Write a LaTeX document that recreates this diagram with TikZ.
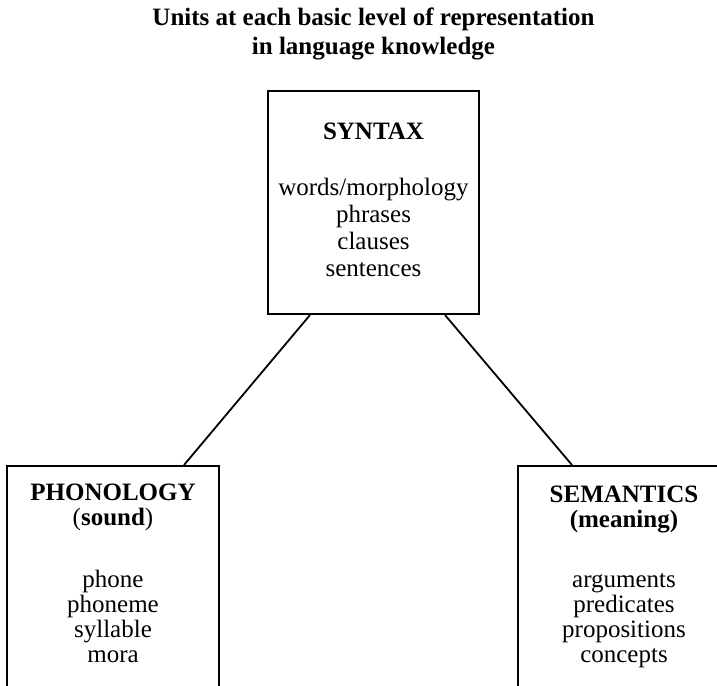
\documentclass[tikz,border=0pt]{standalone}
\usepackage{fontspec}
\setmainfont{Liberation Serif}
\usetikzlibrary{positioning}

\begin{document}
\begin{tikzpicture}[
        x=0.5pt, y=-0.5pt,
        levelbox/.style={draw, rectangle, line width=1pt, inner sep=0pt, minimum width=106pt},
        units/.style={align=center, inner sep=0pt, font=\fontsize{12.5}{12.5}\selectfont},
        heading/.style={align=center, inner sep=0pt, font=\bfseries\fontsize{12.5}{14.5}\selectfont},
        link/.style={line width=0.9pt}]

        \useasboundingbox (0,0) rectangle (717,685);
        \clip (0,0) rectangle (717,685);

        % Levels
        \node[levelbox, minimum width=105.5pt, minimum height=111.5pt, anchor=north west] (syntax) at (267,90) {};
        \node[levelbox, minimum height=120pt, anchor=north west] (phonology) at (6,465) {};
        \node[levelbox, minimum height=120pt, anchor=north west] (semantics) at (517,465) {};

        % Title
        \node[heading, above=15pt of syntax.north] (title) {Units at each basic level of representation\\in language knowledge};

        % Units
        \node[units, font=\fontsize{12.5}{13.5}\selectfont, below=16.25pt of syntax.north] (syntaxunits) {\textbf{SYNTAX}\\[14.5pt]words/morphology\\phrases\\clauses\\sentences};
        \node[units, below=9.25pt of phonology.north] (phonunits) {\textbf{PHONOLOGY}\\(\textbf{sound})\\[18.5pt]phone\\phoneme\\syllable\\mora};
        \node[units, below=10.25pt of semantics.north] (semunits) {\textbf{SEMANTICS}\\\textbf{(meaning)}\\[17.5pt]arguments\\predicates\\propositions\\concepts};

        % Connections
        \draw[link] ([xshift=21.5pt]syntax.south west) -- ([xshift=-18pt]phonology.north east);
        \draw[link] ([xshift=-17.5pt]syntax.south east) -- ([xshift=27.5pt]semantics.north west);

\end{tikzpicture}
\end{document}
